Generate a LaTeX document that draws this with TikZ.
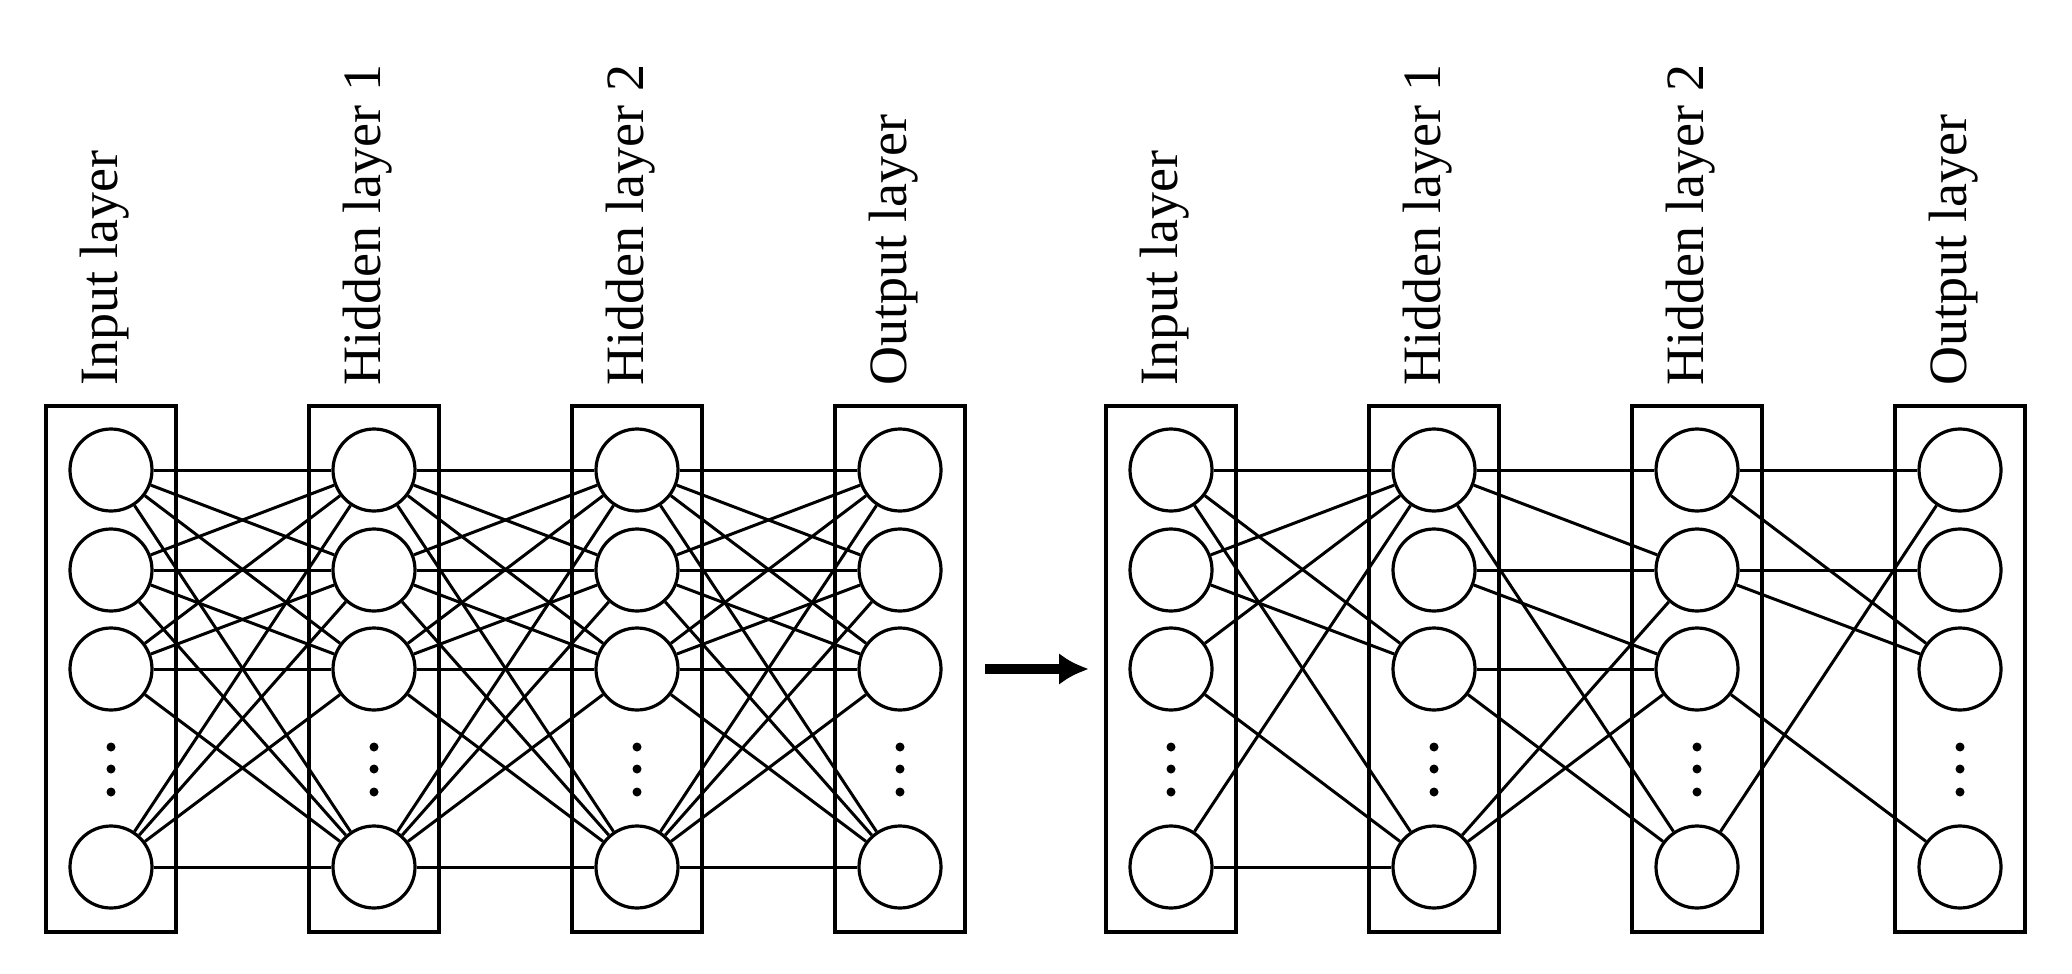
\documentclass[tikz,border=0pt]{standalone}
\usepackage{fontspec}
\setmainfont{Liberation Serif}
\usetikzlibrary{arrows.meta}
\begin{document}
\begin{tikzpicture}[x=0.5pt,y=-0.5pt,
  neuron/.style={circle,draw,line width=1.6pt,minimum size=41pt,inner sep=0pt},
  layerbox/.style={draw,line width=1.6pt},
  conn/.style={line width=1.5pt},
  lbl/.style={rotate=90,anchor=west,font=\fontsize{27}{30}\selectfont,inner sep=0pt},
  dot/.style={circle,fill,inner sep=0pt,minimum size=4.5pt}]
\useasboundingbox (0,0) rectangle (2072,974);
\foreach \i/\x/\t in {1/111/Input layer,2/374/Hidden layer 1,3/637/Hidden layer 2,4/900/Output layer,5/1171/Input layer,6/1434/Hidden layer 1,7/1697/Hidden layer 2,8/1960/Output layer}{
  \node[layerbox,minimum width=65pt,minimum height=263pt,inner sep=0pt] (B\i) at (\x,669) {};
  \node[lbl] (T\i) at (\x-6,386) {\t};
  \foreach \j/\y in {1/470,2/570,3/669,4/867}{
    \node[neuron] (N\i\j) at (\x,\y) {};
  }
  \foreach \k/\y in {1/747,2/769,3/792}{
    \node[dot] (D\i\k) at (\x,\y) {};
  }
}
% left: fully connected
\foreach \a/\b in {1/2,2/3,3/4}{
  \foreach \p in {1,2,3,4}{
    \foreach \q in {1,2,3,4}{
      \draw[conn] (N\a\p) -- (N\b\q);
    }
  }
}
% right: sparse
\foreach \a/\b in {51/61,51/63,51/64,52/61,52/63,53/61,53/64,54/61,54/64,
  61/71,61/72,61/74,62/72,62/73,63/73,63/74,64/72,64/73,
  71/81,71/83,72/82,72/83,73/84,74/81}{
  \draw[conn] (N\a) -- (N\b);
}
\coordinate (A1) at (985,669);
\coordinate (A2) at (1089,669);
\draw[line width=5pt,-{Latex[length=15pt,width=16pt]}] (A1) -- (A2);
\end{tikzpicture}
\end{document}
